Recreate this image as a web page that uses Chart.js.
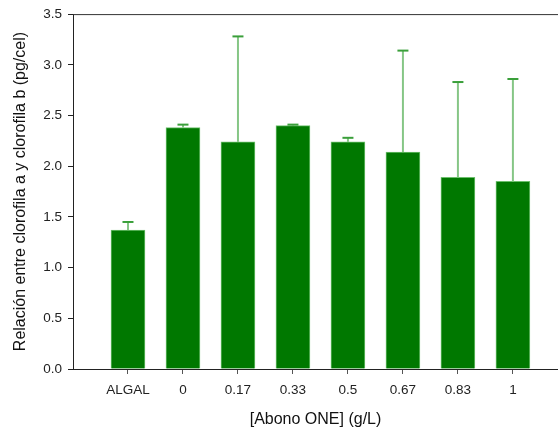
<!DOCTYPE html>
<html>
<head>
<meta charset="utf-8">
<script src="https://cdn.jsdelivr.net/npm/chart.js@4/dist/chart.umd.min.js"></script>
<style>
  html, body { margin: 0; padding: 0; background: #fff; }
  #wrap { width: 558px; height: 429px; }
</style>
</head>
<body>
<div id="wrap"><canvas id="chart"></canvas></div>
<script>
var categories = ['ALGAL', '0', '0.17', '0.33', '0.5', '0.67', '0.83', '1'];
var ratios = [1.37, 2.38, 2.24, 2.40, 2.24, 2.14, 1.89, 1.85];
var errors = [0.08, 0.03, 1.04, 0.01, 0.04, 1.00, 0.94, 1.01];
var yTicks = [0, 0.5, 1.0, 1.5, 2.0, 2.5, 3.0, 3.5];

Chart.defaults.font.family = '"Liberation Sans", Arial, sans-serif';
Chart.defaults.color = '#222';

var errorBars = {
    id: 'errorBars',
    afterDatasetsDraw: function (chart) {
        var ctx = chart.ctx;
        var xs = chart.scales.x, ys = chart.scales.y;
        ctx.save();
        ratios.forEach(function (v, i) {
            var x = xs.getPixelForValue(i);
            var y0 = ys.getPixelForValue(v);
            var y1 = ys.getPixelForValue(v + errors[i]);
            ctx.strokeStyle = '#86c686';
            ctx.lineWidth = 2;
            ctx.beginPath();
            ctx.moveTo(x, y0);
            ctx.lineTo(x, y1);
            ctx.stroke();
            ctx.strokeStyle = '#3a9f3a';
            ctx.beginPath();
            ctx.moveTo(x - 5.5, y1);
            ctx.lineTo(x + 5.5, y1);
            ctx.stroke();
        });
        // top frame line
        var a = chart.chartArea;
        ctx.strokeStyle = '#333';
        ctx.lineWidth = 1;
        ctx.beginPath();
        ctx.moveTo(a.left, a.top + 0.5);
        ctx.lineTo(a.right, a.top + 0.5);
        ctx.stroke();
        ctx.restore();
    }
};

var chart = new Chart(document.getElementById('chart').getContext('2d'), {
    type: 'bar',
    data: {
        datasets: [{
            data: ratios.map(function (v, i) { return { x: i, y: v }; }),
            backgroundColor: '#007800',
            borderColor: '#6cbf6c',
            borderWidth: 1,
            barThickness: 34
        }]
    },
    options: {
        responsive: true,
        maintainAspectRatio: false,
        animation: false,
        layout: { padding: { top: 14, right: 0, left: 0, bottom: 0 } },
        plugins: {
            legend: { display: false },
            tooltip: { enabled: false }
        },
        scales: {
            x: {
                type: 'linear',
                offset: false,
                min: -1,
                max: 7.82,
                afterBuildTicks: function (scale) {
                    scale.ticks = categories.map(function (c, i) { return { value: i }; });
                },
                afterFit: function (scale) { scale.height = 60; },
                ticks: {
                    autoSkip: false,
                    maxRotation: 0,
                    padding: 8,
                    font: { size: 13.5 },
                    callback: function (v) { return categories[v]; }
                },
                grid: { offset: false, drawOnChartArea: false, drawTicks: true, tickLength: 5, tickColor: '#555' },
                border: { color: '#222', width: 1 },
                title: {
                    display: true,
                    text: '[Abono ONE] (g/L)',
                    font: { size: 16 },
                    color: '#111',
                    padding: { top: 0, bottom: 0 }
                }
            },
            y: {
                min: 0,
                max: 3.5,
                afterBuildTicks: function (scale) {
                    scale.ticks = yTicks.map(function (t) { return { value: t }; });
                },
                afterFit: function (scale) { scale.width = 73; },
                ticks: {
                    padding: 6,
                    font: { size: 13.5 },
                    callback: function (v) { return v.toFixed(1); }
                },
                grid: { drawOnChartArea: false, drawTicks: true, tickLength: 5, tickColor: '#222' },
                border: { color: '#222', width: 1 },
                title: {
                    display: true,
                    text: 'Relación entre clorofila a y clorofila b (pg/cel)',
                    font: { size: 16 },
                    color: '#111',
                    padding: { top: 11, bottom: 0 }
                }
            }
        }
    },
    plugins: [errorBars]
});
</script>
</body>
</html>
